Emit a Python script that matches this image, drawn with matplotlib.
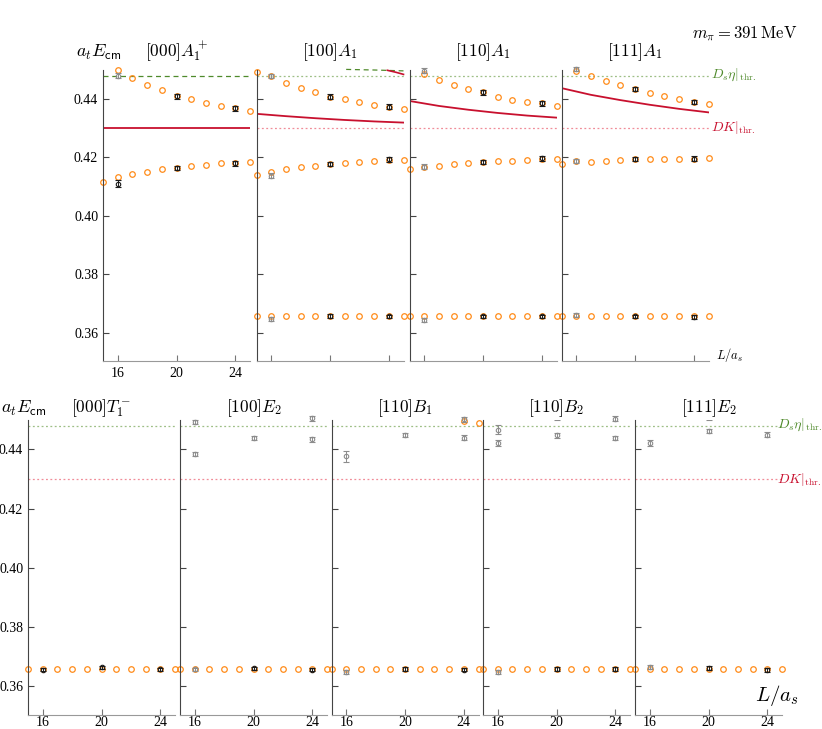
import numpy as np
import matplotlib
matplotlib.use('Agg')
import matplotlib.pyplot as plt

plt.rcParams['font.family'] = ['Liberation Serif', 'DejaVu Serif']
plt.rcParams['mathtext.fontset'] = 'cm'

nan = np.nan

# volumes where the model levels are drawn
L_grid = [15, 16, 17, 18, 19, 20, 21, 22, 23, 24, 25]

# ---- top row: A1 irreps ----
top_titles = [r'$[000]A_1^+$', r'$[100]A_1$', r'$[110]A_1$', r'$[111]A_1$']

# orange model levels (upper / lower / ground)
top_upper = [
    [nan, 0.4499, 0.4472, 0.4449, 0.4431, 0.4410, 0.4399, 0.4386, 0.4376, 0.4369, 0.4360],
    [0.4491, 0.4479, 0.4454, 0.4439, 0.4423, 0.4408, 0.4399, 0.4389, 0.4379, 0.4373, 0.4365],
    [nan, 0.4484, 0.4464, 0.4447, 0.4433, 0.4422, 0.4408, 0.4398, 0.4390, 0.4385, 0.4375],
    [nan, 0.4497, 0.4478, 0.4462, 0.4446, 0.4433, 0.4419, 0.4409, 0.4400, 0.4390, 0.4384],
]
top_lower = [
    [0.4117, 0.4132, 0.4144, 0.4151, 0.4160, 0.4164, 0.4171, 0.4175, 0.4179, 0.4180, 0.4185],
    [0.4140, 0.4151, 0.4161, 0.4168, 0.4172, 0.4177, 0.4180, 0.4184, 0.4187, 0.4191, 0.4190],
    [0.4160, 0.4168, 0.4172, 0.4177, 0.4180, 0.4185, 0.4187, 0.4189, 0.4191, 0.4196, 0.4195],
    [0.4177, 0.4188, 0.4185, 0.4188, 0.4190, 0.4193, 0.4193, 0.4194, 0.4195, 0.4196, 0.4197],
]
top_ground = [None, 0.3657, 0.3657, 0.3657]

# lattice levels: (L, E, err, shade) with shade 'g' = grey, 'k' = black
top_lattice = [
    [(16, 0.4479, 0.0009, 'g'), (16, 0.4110, 0.0011, 'k'), (20, 0.4409, 0.0008, 'k'),
     (20, 0.4164, 0.0007, 'k'), (24, 0.4368, 0.0008, 'k'), (24, 0.4180, 0.0008, 'k')],
    [(16, 0.4479, 0.0008, 'g'), (16, 0.4137, 0.0009, 'g'), (20, 0.4408, 0.0008, 'k'),
     (20, 0.4177, 0.0007, 'k'), (24, 0.4373, 0.0008, 'k'), (24, 0.4193, 0.0008, 'k'),
     (16, 0.3648, 0.0007, 'g'), (20, 0.3657, 0.0006, 'k'), (24, 0.3656, 0.0006, 'k')],
    [(16, 0.4497, 0.0008, 'g'), (16, 0.4168, 0.0008, 'g'), (20, 0.4422, 0.0007, 'k'),
     (20, 0.4185, 0.0007, 'k'), (24, 0.4385, 0.0008, 'k'), (24, 0.4197, 0.0008, 'k'),
     (16, 0.3643, 0.0007, 'g'), (20, 0.3656, 0.0006, 'k'), (24, 0.3656, 0.0006, 'k')],
    [(16, 0.4502, 0.0008, 'g'), (16, 0.4188, 0.0008, 'g'), (20, 0.4433, 0.0007, 'k'),
     (20, 0.4193, 0.0007, 'k'), (24, 0.4390, 0.0008, 'k'), (24, 0.4196, 0.0008, 'k'),
     (16, 0.3660, 0.0007, 'g'), (20, 0.3656, 0.0006, 'k'), (24, 0.3653, 0.0006, 'k')],
]

# lowest non-interacting DK level in moving frames (red curves)
dk_curve_L = [15, 17, 19, 21, 23, 25]
dk_curve_E = [
    None,
    [0.4349, 0.4341, 0.4334, 0.4328, 0.4323, 0.4319],
    [0.4393, 0.4376, 0.4363, 0.4352, 0.4343, 0.4336],
    [0.4437, 0.4414, 0.4396, 0.4380, 0.4366, 0.4354],
]
# curves entering [100]A1 from above
p2_dseta_L = [21.1, 23.0, 25.0]
p2_dseta_E = [0.4501, 0.4499, 0.4496]
p2_dk2_L = [23.9, 24.5, 25.0]
p2_dk2_E = [0.4498, 0.4491, 0.4484]

# ---- bottom row ----
bot_titles = [r'$[000]T_1^-$', r'$[100]E_2$', r'$[110]B_1$', r'$[110]B_2$', r'$[111]E_2$']
bot_ground = [0.3658, 0.3658, 0.3658, 0.3658, 0.3658]
bot_upper = [None, None, [nan] * 9 + [0.4496, 0.4489], None, None]
bot_lattice = [
    [(16, 0.3656, 0.0006, 'k'), (20, 0.3664, 0.0006, 'k'), (24, 0.3657, 0.0006, 'k')],
    [(16, 0.3657, 0.0006, 'g'), (20, 0.3660, 0.0006, 'k'), (24, 0.3656, 0.0006, 'k'),
     (16, 0.4492, 0.0008, 'g'), (16, 0.4384, 0.0008, 'g'), (20, 0.4438, 0.0008, 'g'),
     (24, 0.4505, 0.0008, 'g'), (24, 0.4434, 0.0008, 'g')],
    [(16, 0.3647, 0.0007, 'g'), (20, 0.3659, 0.0006, 'k'), (24, 0.3656, 0.0006, 'k'),
     (16, 0.4376, 0.0019, 'g'), (20, 0.4449, 0.0007, 'g'), (24, 0.4501, 0.0008, 'g'),
     (24, 0.4439, 0.0008, 'g')],
    [(16, 0.3649, 0.0007, 'g'), (20, 0.3659, 0.0006, 'k'), (24, 0.3659, 0.0006, 'k'),
     (16, 0.4466, 0.0015, 'g'), (16, 0.4421, 0.0009, 'g'), (20, 0.4447, 0.0008, 'g'),
     (20, 0.4516, 0.0018, 'g'), (24, 0.4503, 0.0008, 'g'), (24, 0.4438, 0.0008, 'g')],
    [(16, 0.3664, 0.0007, 'g'), (20, 0.3662, 0.0006, 'k'), (24, 0.3654, 0.0006, 'k'),
     (16, 0.4422, 0.0011, 'g'), (20, 0.4462, 0.0008, 'g'), (20, 0.4516, 0.0018, 'g'),
     (24, 0.4449, 0.0008, 'g')],
]

dseta_thr = 0.4480
dk_thr = 0.4300
ylo, yhi = 0.3503, 0.4499

ORANGE = '#ff8c1a'
RED = '#c8102e'
GREEN = '#4f8a2b'
shades = {'g': '#8c8c8c', 'k': '#1a1a1a'}

W, H = 822, 729
fig = plt.figure(figsize=(W / 100, H / 100), dpi=100)


def px_axes(left, top, width, height):
    return fig.add_axes([left / W, 1 - (top + height) / H, width / W, height / H])


def style_axes(ax, ylabels, xlabels, xpad):
    ax.set_xlim(15, 25)
    ax.set_ylim(ylo, yhi)
    for s in ['top', 'right']:
        ax.spines[s].set_visible(False)
    ax.spines['left'].set_color('#444444')
    ax.spines['bottom'].set_color('#999999')
    ax.set_xticks([16, 20, 24])
    ax.set_yticks([0.36, 0.38, 0.40, 0.42, 0.44])
    ax.tick_params(direction='in', length=4, width=0.8, color='#444444', labelsize=10)
    ax.tick_params(axis='x', color='#777777', pad=xpad)
    if ylabels:
        ax.set_yticklabels(['%.2f' % v for v in ax.get_yticks()])
    else:
        ax.set_yticklabels([])
    if not xlabels:
        ax.set_xticklabels([])
    ax.patch.set_visible(False)


def draw_orange(ax, vals):
    ax.plot(L_grid, vals, 'o', mfc='none', mec=ORANGE, ms=4.0, mew=0.9,
            clip_on=False, zorder=2)


def draw_lattice(ax, pts):
    for L, E, err, sh in pts:
        c = shades[sh]
        cont = ax.errorbar([L], [E], yerr=[err], fmt='o', mfc='none', mec=c, ms=3.2,
                           mew=0.8, ecolor=c, elinewidth=0.7, capsize=2.5,
                           capthick=0.7, zorder=3)
        for art in cont.get_children():
            art.set_clip_on(E > yhi + 0.001)


def thr_lines(ax):
    ax.axhline(dseta_thr, color='#9dbf85', ls=(0, (1.5, 2)), lw=0.9, zorder=1)
    ax.axhline(dk_thr, color='#f08c98', ls=(0, (1.5, 2)), lw=0.9, zorder=1)


# top row
top_lefts = [103, 256.5, 409.5, 561.5]
for i, x0 in enumerate(top_lefts):
    ax = px_axes(x0, 70, 147, 291)
    style_axes(ax, i == 0, i == 0, 4)
    if i == 0:
        ax.axhline(dseta_thr, color=GREEN, ls=(0, (4, 3)), lw=0.9, zorder=1)
        ax.axhline(dk_thr, color=RED, lw=1.3, zorder=1)
    else:
        thr_lines(ax)
        ax.plot(dk_curve_L, dk_curve_E[i], color=RED, lw=1.3, zorder=1)
    if i == 1:
        ax.plot(p2_dseta_L, p2_dseta_E, color=GREEN, ls=(0, (4, 3)), lw=0.9, clip_on=False)
        ax.plot(p2_dk2_L, p2_dk2_E, color=RED, lw=1.2, clip_on=False)
    draw_orange(ax, top_upper[i])
    draw_orange(ax, top_lower[i])
    if top_ground[i] is not None:
        draw_orange(ax, [top_ground[i]] * len(L_grid))
    draw_lattice(ax, top_lattice[i])
    fig.text((x0 + 73.5) / W, 1 - 52 / H, top_titles[i], ha='center', va='center',
             fontsize=12.5)

# bottom row
bot_lefts = [28, 180, 331.5, 483, 635]
for i, x0 in enumerate(bot_lefts):
    ax = px_axes(x0, 420, 147, 295)
    style_axes(ax, i == 0, True, 1.0)
    thr_lines(ax)
    draw_orange(ax, [bot_ground[i]] * len(L_grid))
    if bot_upper[i] is not None:
        draw_orange(ax, bot_upper[i])
    draw_lattice(ax, bot_lattice[i])
    fig.text((x0 + 73.5) / W, 1 - 408 / H, bot_titles[i], ha='center', va='center',
             fontsize=12.5)

# axis labels and annotations
ylab = r'$a_t E_{\mathsf{cm}}$'
fig.text(76 / W, 1 - 52 / H, ylab, ha='left', va='center', fontsize=13)
fig.text(1 / W, 1 - 408 / H, ylab, ha='left', va='center', fontsize=13)
fig.text(797 / W, 1 - 34 / H, r'$m_\pi = 391\,\mathrm{MeV}$', ha='right', va='center',
         fontsize=12)
fig.text(716 / W, 1 - 355 / H, r'$L/a_s$', ha='left', va='center', fontsize=9)
fig.text(755 / W, 1 - 696 / H, r'$L/a_s$', ha='left', va='center', fontsize=15)

for yy, x0 in [(75, 711), (425, 777)]:
    fig.text(x0 / W, 1 - yy / H, r'$D_s\eta|_{\mathrm{thr.}}$', color=GREEN,
             ha='left', va='center', fontsize=10)
for yy, x0 in [(128, 711), (479, 777)]:
    fig.text(x0 / W, 1 - yy / H, r'$DK|_{\mathrm{thr.}}$', color=RED,
             ha='left', va='center', fontsize=10)

fig.savefig('out.png', dpi=100)
